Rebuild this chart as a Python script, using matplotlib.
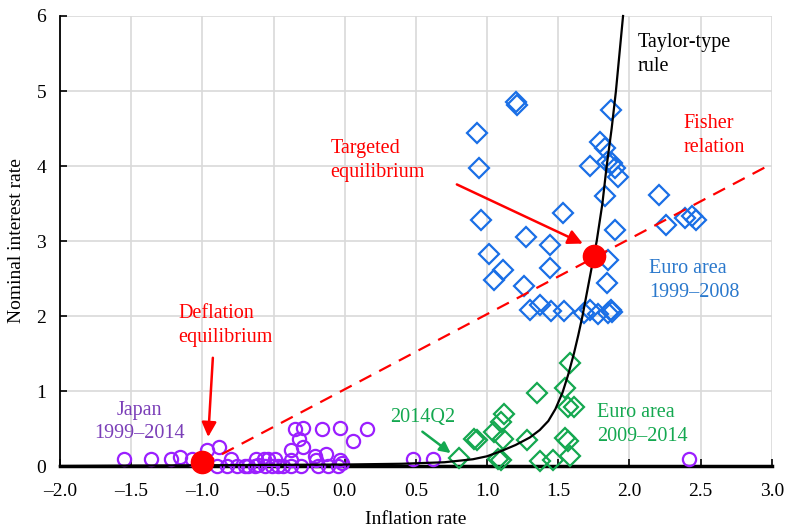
import numpy as np
import matplotlib
matplotlib.use("Agg")
import matplotlib.pyplot as plt

plt.rcParams['font.family'] = ['Liberation Serif', 'DejaVu Serif']

# Japan 1999-2014 (inflation, nominal rate)
japan_x = [-1.55, -1.36, -1.22, -1.16, -1.07, -0.97, -0.88, -0.90, -0.83, -0.80,
           -0.76, -0.70, -0.62, -0.61, -0.57, -0.56, -0.54, -0.51, -0.49, -0.47,
           -0.38, -0.35, -0.29, -0.32, -0.29, -0.38, -0.38, -0.31, -0.21, -0.20,
           -0.19, -0.13, -0.12, -0.16, -0.03, -0.03, -0.02, -0.05, 0.06, 0.16,
           0.48, 0.62, 2.42, -0.63, -0.43, -0.68]
japan_y = [0.10, 0.10, 0.10, 0.12, 0.09, 0.21, 0.25, 0.00, 0.00, 0.10,
           0.00, 0.00, 0.10, 0.01, 0.09, 0.00, 0.10, 0.00, 0.09, 0.00,
           0.22, 0.49, 0.51, 0.36, 0.25, 0.08, 0.00, 0.00, 0.13, 0.08,
           0.00, 0.16, 0.00, 0.49, 0.51, 0.08, 0.04, 0.00, 0.33, 0.49,
           0.09, 0.09, 0.09, 0.00, 0.00, 0.00]

# Euro area 1999-2008
ea1_x = [1.20, 1.21, 0.93, 0.94, 0.96, 1.87, 1.79, 1.83, 1.72, 1.84,
         1.88, 1.90, 1.92, 1.83, 1.90, 1.53, 1.27, 1.44, 1.01, 1.11,
         1.05, 1.44, 1.26, 1.85, 1.84, 1.30, 1.37, 1.45, 1.54, 1.68,
         1.72, 1.78, 1.85, 1.87, 1.88, 2.21, 2.26, 2.39, 2.44, 2.47]
ea1_y = [4.85, 4.82, 4.44, 3.97, 3.28, 4.75, 4.32, 4.24, 4.00, 4.05,
         4.04, 3.97, 3.85, 3.60, 3.15, 3.37, 3.05, 2.95, 2.83, 2.61,
         2.48, 2.64, 2.40, 2.75, 2.44, 2.08, 2.15, 2.07, 2.07, 2.04,
         2.08, 2.03, 2.04, 2.08, 2.05, 3.61, 3.21, 3.31, 3.33, 3.28]

# Euro area 2009-2014
ea2_x = [0.80, 0.91, 0.93, 1.05, 1.11, 1.10, 1.12, 1.08, 1.10, 1.28,
         1.35, 1.37, 1.46, 1.55, 1.58, 1.57, 1.61, 1.55, 1.57, 1.58]
ea2_y = [0.11, 0.36, 0.35, 0.45, 0.36, 0.59, 0.69, 0.09, 0.08, 0.35,
         0.97, 0.07, 0.08, 1.04, 1.37, 0.79, 0.79, 0.37, 0.34, 0.13]

# Taylor-type rule
taylor_x = [-2.0, -1.0, 0.0, 0.4, 0.7, 0.9, 1.0, 1.1, 1.2, 1.3, 1.37, 1.43,
            1.48, 1.53, 1.57, 1.61, 1.64, 1.67, 1.72, 1.77, 1.81, 1.84,
            1.875, 1.905, 1.93, 1.955]
taylor_y = [0.0, 0.01, 0.02, 0.03, 0.05, 0.09, 0.13, 0.2, 0.28, 0.38, 0.48, 0.6,
            0.76, 0.98, 1.22, 1.5, 1.74, 2.00, 2.50, 3.00, 3.50, 4.00,
            4.50, 5.00, 5.50, 6.00]

# Fisher relation
fisher_x = [-1.0, 3.0]
fisher_y = [0.02, 4.03]

# equilibria
eq_x = [-1.0, 1.75]
eq_y = [0.06, 2.80]

red = '#ff0000'
blue = '#1a6fe6'
green = '#14a850'
purple = '#9b1fff'

fig = plt.figure(figsize=(7.9, 5.28), dpi=100)
ax = fig.add_axes([0.0759, 0.1174, 0.9011, 0.8523])

ax.grid(True, color='#d9d9d9', linewidth=1.2)
ax.set_axisbelow(True)

ax.plot(japan_x, japan_y, 'o', ms=9.5, mfc='none', mec=purple, mew=1.6,
        clip_on=False, zorder=3)
ax.plot(ea1_x, ea1_y, 'D', ms=10, mfc='none', mec=blue, mew=1.6,
        clip_on=False, zorder=3)
ax.plot(ea2_x, ea2_y, 'D', ms=10, mfc='none', mec=green, mew=1.6,
        clip_on=False, zorder=3)

ax.plot(fisher_x, fisher_y, '--', color=red, lw=1.6, dashes=(6, 4), zorder=4)
ax.plot(taylor_x, taylor_y, '-', color='black', lw=1.6, zorder=4, clip_on=False)
ax.plot(eq_x, eq_y, 'o', ms=16, color=red, zorder=6, clip_on=False)

fs = 14.5
ax.text(2.06, 5.49, 'Taylor-type\nrule', fontsize=fs, color='black',
        ha='left', va='center', linespacing=1.35)
ax.text(2.38, 4.41, 'Fisher\nrelation', fontsize=fs, color=red,
        ha='left', va='center', linespacing=1.35)
ax.text(-0.10, 4.07, 'Targeted\nequilibrium', fontsize=fs, color=red,
        ha='left', va='center', linespacing=1.35)
ax.text(-1.17, 1.87, 'Deflation\nequilibrium', fontsize=fs, color=red,
        ha='left', va='center', linespacing=1.35)
ax.text(-1.44, 0.59, 'Japan\n1999\u20132014', fontsize=fs, color='#7b3fb8',
        ha='center', va='center', linespacing=1.25)
ax.text(0.55, 0.65, '2014Q2', fontsize=fs, color=green, ha='center', va='center')
ax.text(1.77, 0.55, 'Euro area\n2009\u20132014', fontsize=fs, color=green,
        ha='left', va='center', linespacing=1.35)
ax.text(2.14, 2.47, 'Euro area\n1999\u20132008', fontsize=fs, color='#2a78cc',
        ha='left', va='center', linespacing=1.35)

ax.annotate('', xy=(1.69, 2.95), xytext=(0.77, 3.77),
            arrowprops=dict(arrowstyle='-|>', color=red, lw=1.8,
                            mutation_scale=22), zorder=5)
ax.annotate('', xy=(-0.96, 0.35), xytext=(-0.925, 1.48),
            arrowprops=dict(arrowstyle='-|>', color=red, lw=1.8,
                            mutation_scale=22), zorder=5)
ax.annotate('', xy=(0.76, 0.15), xytext=(0.53, 0.48),
            arrowprops=dict(arrowstyle='-|>', color=green, lw=1.8,
                            mutation_scale=16), zorder=5)

ax.set_xlim(-2.0, 3.0)
ax.set_ylim(0, 6)
ax.set_xticks(np.arange(-2.0, 3.01, 0.5))
ax.set_xticklabels(['\u2013' + '%.1f' % abs(v) if v < 0 else '%.1f' % v
                    for v in np.arange(-2.0, 3.01, 0.5)])
ax.set_yticks(range(0, 7))
ax.tick_params(direction='in', length=5, width=1.2, labelsize=14)
ax.tick_params(axis='y', pad=10)
ax.tick_params(axis='x', pad=12)

for s in ['top', 'right']:
    ax.spines[s].set_visible(False)
ax.spines['left'].set_linewidth(1.3)
ax.spines['bottom'].set_linewidth(2.5)

ax.set_xlabel('Inflation rate', fontsize=14, labelpad=8)
ax.set_ylabel('Nominal interest rate', fontsize=14, labelpad=8)

fig.savefig('out.png', dpi=100)
